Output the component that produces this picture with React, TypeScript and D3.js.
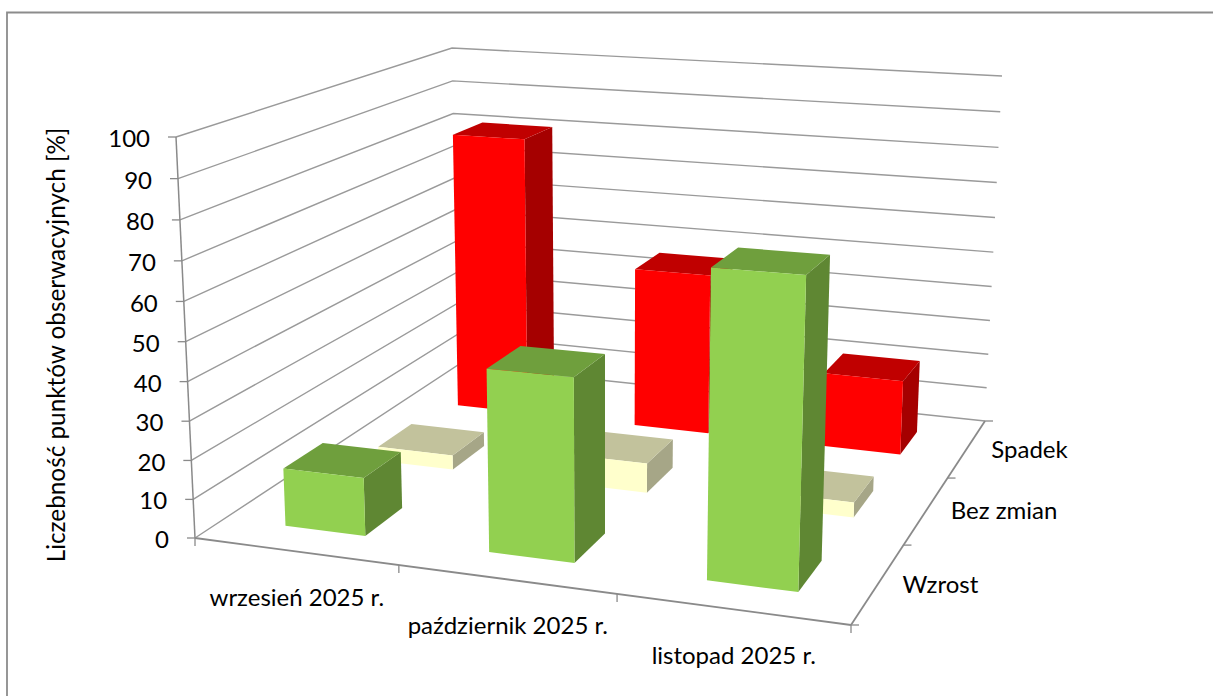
import React from "react";
import * as d3 from "d3";

const categories = ["wrzesień 2025 r.", "październik 2025 r.", "listopad 2025 r."];
const depthSeries = ["Wzrost", "Bez zmian", "Spadek"];
const wzrost = [15, 46, 75];
const bezZmian = [4, 8, 4];
const spadek = [81, 46, 21];
const valueTicks = [0, 10, 20, 30, 40, 50, 60, 70, 80, 90, 100];
const axisTitle = "Liczebność punktów obserwacyjnych [%]";

const seriesValues = [wzrost, bezZmian, spadek];
const faceColors = [
  { front: "#92D050", top: "#6F9F3D", side: "#5F8733" },
  { front: "#FFFFCC", top: "#C2C29C", side: "#A6A687" },
  { front: "#FF0000", top: "#C00000", side: "#A50000" },
];

type P = [number, number];
function homography(p0: P, p1: P, p2: P, p3: P) {
  const dx1 = p1[0] - p2[0], dx2 = p3[0] - p2[0], sx = p0[0] - p1[0] + p2[0] - p3[0];
  const dy1 = p1[1] - p2[1], dy2 = p3[1] - p2[1], sy = p0[1] - p1[1] + p2[1] - p3[1];
  const den = dx1 * dy2 - dx2 * dy1;
  const g = (sx * dy2 - dx2 * sy) / den;
  const h = (dx1 * sy - sx * dy1) / den;
  const a = p1[0] - p0[0] + g * p1[0], b = p3[0] - p0[0] + h * p3[0], c = p0[0];
  const d = p1[1] - p0[1] + g * p1[1], e = p3[1] - p0[1] + h * p3[1], f = p0[1];
  return (u: number, w: number): P => {
    const q = g * u + h * w + 1;
    return [(a * u + b * w + c) / q, (d * u + e * w + f) / q];
  };
}

const floor = homography([195, 538], [851, 625], [985, 421], [458, 365]);
const ceil = homography([176, 137], [865, 182], [1002, 76], [452, 48]);
const valueScale = d3.scaleLinear().domain([0, 100]).range([0, 1]);
const uPerspective = d3.scaleLinear().domain([0, 1 / 3, 2 / 3, 1]).range([0, 0.3287, 0.6621, 1]);
const K = 0.959;
function project(u0: number, w: number, v: number): P {
  const u = uPerspective(u0);
  const t = valueScale(v);
  const tt = (K * t) / (1 + (K - 1) * t);
  const a = floor(u, w), b = ceil(u, w);
  return [a[0] + (b[0] - a[0]) * tt, a[1] + (b[1] - a[1]) * tt];
}

const uBand = d3.scaleBand<string>().domain(categories).range([0.002, 1.002]).paddingInner(0.6).paddingOuter(0.3);
const wBand = d3.scaleBand<string>().domain(depthSeries).range([-0.006, 0.994]).paddingInner(0.6).paddingOuter(0.3);
const uStep = d3.scalePoint<number>().domain([0, 1, 2, 3]).range([0, 1]);
const wStep = d3.scalePoint<number>().domain([0, 1, 2, 3]).range([0, 1]);

const poly = d3.line<P>().x((d) => d[0]).y((d) => d[1]);
const closed = (pts: P[]) => poly(pts) + "Z";
const seg = (a: P, b: P) => poly([a, b]) as string;

const GRID = "#9A9A9A";
const AXIS = "#8A8A8A";
const FONT = "Lato, 'Open Sans', sans-serif";

function Bar({ ci, si }: { ci: number; si: number }) {
  const u0 = uBand(categories[ci])!, u1 = u0 + uBand.bandwidth();
  const w0 = wBand(depthSeries[si])!, w1 = w0 + wBand.bandwidth();
  const v = seriesValues[si][ci];
  const c = faceColors[si];
  return (
    <g>
      <path d={closed([project(u1, w0, 0), project(u1, w1, 0), project(u1, w1, v), project(u1, w0, v)])} fill={c.side} />
      <path d={closed([project(u0, w0, v), project(u1, w0, v), project(u1, w1, v), project(u0, w1, v)])} fill={c.top} />
      <path d={closed([project(u0, w0, 0), project(u1, w0, 0), project(u1, w0, v), project(u0, w0, v)])} fill={c.front} />
    </g>
  );
}

export default function App() {
  return (
    <svg width={1213} height={696} style={{ position: "absolute", left: 0, top: 0, background: "#fff" }}>
      <path d="M7,696 V12.5 H1213" fill="none" stroke="#8C8C8C" strokeWidth={1.8} />

      {valueTicks.map((v) => {
        const a = project(0, 0, v), b = project(0, 1, v), c = project(1, 1, v);
        return (
          <g key={v}>
            <path d={poly([a, b, c]) as string} fill="none" stroke={GRID} strokeWidth={1.4} />
            <path d={seg([a[0] - 8, a[1]], a)} stroke={AXIS} strokeWidth={1.3} />
            <text x={a[0] - 26} y={a[1] + 4} textAnchor="end" dominantBaseline="middle" fontFamily={FONT} fontSize={24} fill="#000">
              {v}
            </text>
          </g>
        );
      })}
      <path d={seg(project(0, 0, 0), project(0, 0, 100))} stroke={AXIS} strokeWidth={1.5} />
      <path d={seg(project(0, 0, 0), project(1, 0, 0))} stroke={AXIS} strokeWidth={1.8} />
      <path d={seg(project(1, 0, 0), project(1, 1, 0))} stroke={AXIS} strokeWidth={1.8} />

      {uStep.domain().map((i) => {
        const p = project(uStep(i)!, 0, 0);
        return <path key={i} d={seg(p, [p[0], p[1] + 8])} stroke={AXIS} strokeWidth={1.3} />;
      })}
      {wStep.domain().map((i) => {
        const p = project(1, wStep(i)!, 0);
        return <path key={i} d={seg(p, [p[0] + 8, p[1]])} stroke={AXIS} strokeWidth={1.3} />;
      })}

      {[2, 1, 0].map((si) => categories.map((_, ci) => <Bar key={si + "-" + ci} ci={ci} si={si} />))}

      {categories.map((name) => {
        const p = project(uBand(name)! + uBand.bandwidth() / 2, 0, 0);
        return (
          <text key={name} x={p[0]} y={p[1] + 48} textAnchor="middle" dominantBaseline="middle" fontFamily={FONT} fontSize={24} fill="#000">
            {name}
          </text>
        );
      })}
      {depthSeries.map((name) => {
        const p = project(1, wBand(name)! + wBand.bandwidth() / 2, 0);
        return (
          <text key={name} x={p[0] + 25} y={p[1] + 2} dominantBaseline="middle" fontFamily={FONT} fontSize={24} fill="#000">
            {name}
          </text>
        );
      })}
      <text transform="translate(59,345) rotate(-90)" textAnchor="middle" dominantBaseline="middle" fontFamily={FONT} fontSize={24.3} fill="#000">
        {axisTitle}
      </text>
    </svg>
  );
}
